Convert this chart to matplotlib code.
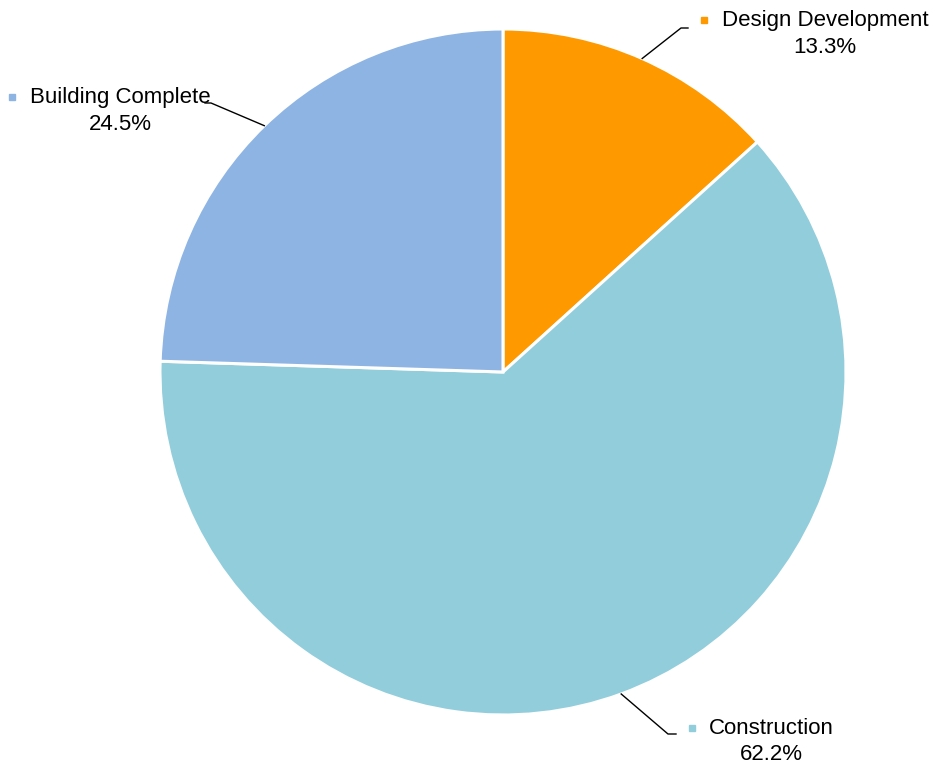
import numpy as np
import matplotlib.pyplot as plt

plt.rcParams['font.family'] = ['Liberation Sans', 'DejaVu Sans']

# data
categories = ['Design Development', 'Construction', 'Building Complete']
shares = [13.3, 62.2, 24.5]
colors = ['#FF9900', '#92CDDC', '#8EB4E3']

W, H = 933, 765
fig = plt.figure(figsize=(W / 100, H / 100), dpi=100)
ax = fig.add_axes([0, 0, 1, 1])

cx, cy, r = 503, H - 372, 343
wedges, _ = ax.pie(shares, colors=colors, startangle=90, counterclock=False,
                   center=(cx, cy), radius=r, frame=True,
                   wedgeprops=dict(edgecolor='white', linewidth=2.2))
ax.set_xlim(0, W)
ax.set_ylim(0, H)
ax.set_aspect('equal')
ax.axis('off')

# label layout: elbow point, line end, text center x, first line y (pixels from top)
layout = {
    'Design Development': dict(elbow=(681, 28), end=(688, 28), tx=825, ty=20, kx=704),
    'Construction': dict(elbow=(668, 734), end=(676, 734), tx=771, ty=728, kx=692),
    'Building Complete': dict(elbow=(211, 103), end=(205, 103), tx=120, ty=97, kx=12),
}

for w, name, val, col in zip(wedges, categories, shares, colors):
    mid = np.deg2rad((w.theta1 + w.theta2) / 2)
    sx = cx + r * np.cos(mid)
    sy = cy + r * np.sin(mid)
    lay = layout[name]
    ex, ey = lay['elbow']
    fx, fy = lay['end']
    ax.plot([sx, ex, fx], [sy, H - ey, H - fy], color='black', lw=1.0)
    ax.text(lay['tx'], H - lay['ty'], name, ha='center', va='center', fontsize=16)
    ax.text(lay['tx'], H - lay['ty'] - 27, f'{val:.1f}%', ha='center', va='center', fontsize=16)
    ax.plot(lay['kx'], H - lay['ty'], marker='s', ms=4.5, color=col, mec=col)

fig.savefig('out.png', dpi=100)
